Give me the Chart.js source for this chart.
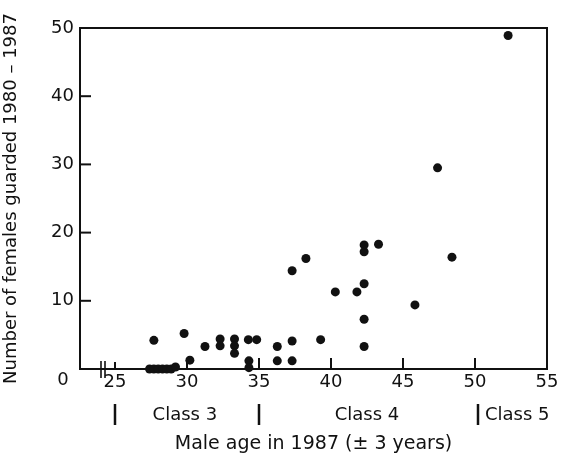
<!DOCTYPE html>
<html>
<head>
<meta charset="utf-8">
<script src="https://cdn.jsdelivr.net/npm/chart.js@4/dist/chart.umd.min.js"></script>
<style>
  html, body { margin: 0; padding: 0; background: #fff; }
  #wrap { width: 562px; height: 455px; }
</style>
</head>
<body>
<div id="wrap"><canvas id="c" width="562" height="455"></canvas></div>
<script>
// ---- data ----
const maleAge = [27.4, 27.7, 28.0, 28.3, 28.6, 28.9, 29.2,
  27.7, 29.8, 30.2, 31.25, 32.3, 32.3, 33.3, 33.3, 33.3, 34.26, 34.84, 34.3, 34.3,
  36.27, 36.27, 37.3, 37.3, 37.3, 38.26, 39.28, 40.3, 41.8, 42.3, 42.3, 42.3, 42.3, 42.3,
  43.3, 45.83, 47.4, 48.4, 52.3];
const femalesGuarded = [0, 0, 0, 0, 0, 0, 0.3,
  4.2, 5.2, 1.3, 3.3, 4.4, 3.4, 4.4, 3.4, 2.3, 4.3, 4.3, 1.2, 0.2,
  3.3, 1.2, 4.1, 1.2, 14.4, 16.2, 4.3, 11.3, 11.3, 12.5, 7.3, 3.3, 18.2, 17.2,
  18.3, 9.4, 29.5, 16.4, 48.9];
const xTickValues = [25, 30, 35, 40, 45, 50, 55];
const yTickValues = [0, 10, 20, 30, 40, 50];
const classBounds = [25, 35, 50];
const classLabels = ['Class 3', 'Class 4', 'Class 5'];
const classLabelCentres = [29.85, 42.5];
const xAxisTitle = 'Male age in 1987 (\u00B1 3 years)';
const yAxisTitle = 'Number of females guarded 1980 \u2013 1987';

const FONT = '"DejaVu Sans", sans-serif';
const INK = '#111';

const points = maleAge.map((x, i) => ({ x: x, y: femalesGuarded[i] }));

const framePlugin = {
  id: 'frame',
  beforeDatasetsDraw(chart) {
    const { ctx, chartArea: a, scales } = chart;
    const xs = scales.x, ys = scales.y;
    ctx.save();
    ctx.strokeStyle = INK;
    ctx.lineWidth = 2;
    ctx.strokeRect(a.left, a.top, a.right - a.left, a.bottom - a.top);
    // inward ticks
    xTickValues.forEach(v => {
      if (v >= 55) return;
      const px = xs.getPixelForValue(v);
      const len = v === 25 ? 7 : 11;
      ctx.beginPath(); ctx.moveTo(px, a.bottom); ctx.lineTo(px, a.bottom - len); ctx.stroke();
    });
    yTickValues.forEach(v => {
      if (v === 0 || v === 50) return;
      const py = ys.getPixelForValue(v);
      ctx.beginPath(); ctx.moveTo(a.left, py); ctx.lineTo(a.left + 11, py); ctx.stroke();
    });
    // axis break marks
    ctx.lineWidth = 1.6;
    [101, 105].forEach(px => {
      ctx.beginPath(); ctx.moveTo(px, a.bottom - 8); ctx.lineTo(px, a.bottom + 9); ctx.stroke();
    });
    ctx.restore();
  },
  afterDraw(chart) {
    const { ctx, chartArea: a, scales } = chart;
    const xs = scales.x;
    ctx.save();
    ctx.fillStyle = INK;
    ctx.strokeStyle = INK;
    ctx.font = '18px ' + FONT;
    ctx.textAlign = 'center';
    ctx.textBaseline = 'middle';
    // origin label
    ctx.fillText('0', 63, a.bottom + 11);
    // class boundaries and labels
    const rowY = 415;
    ctx.lineWidth = 2.5;
    classBounds.forEach((v, i) => {
      const px = xs.getPixelForValue(v) + (i === 2 ? 3 : 0);
      ctx.beginPath(); ctx.moveTo(px, rowY - 11); ctx.lineTo(px, rowY + 10); ctx.stroke();
    });
    ctx.textAlign = 'center';
    ctx.fillText(classLabels[0], xs.getPixelForValue(classLabelCentres[0]), rowY);
    ctx.fillText(classLabels[1], xs.getPixelForValue(classLabelCentres[1]), rowY);
    ctx.textAlign = 'left';
    ctx.fillText(classLabels[2], xs.getPixelForValue(classBounds[2]) + 10, rowY);
    ctx.restore();
  }
};

new Chart(document.getElementById('c'), {
  type: 'scatter',
  data: {
    datasets: [{
      data: points,
      backgroundColor: INK,
      borderColor: INK,
      pointRadius: 4.5,
      pointHoverRadius: 4.5,
      borderWidth: 0,
      clip: false
    }]
  },
  options: {
    responsive: false,
    animation: false,
    events: [],
    layout: { padding: { left: 0, right: 15, top: 28, bottom: 0 } },
    plugins: { legend: { display: false }, tooltip: { enabled: false }, title: { display: false } },
    scales: {
      x: {
        type: 'linear',
        position: 'bottom',
        min: 22.57,
        max: 55,
        afterBuildTicks: s => { s.ticks = xTickValues.map(v => ({ value: v })); },
        afterFit: s => { s.height = 86; },
        grid: { display: false, drawTicks: false },
        border: { display: false },
        ticks: {
          autoSkip: false,
          maxRotation: 0,
          padding: 3,
          color: INK,
          font: { family: FONT, size: 18 },
          callback: v => String(v)
        },
        title: {
          display: true,
          text: xAxisTitle,
          color: INK,
          font: { family: FONT, size: 19 },
          padding: { top: 0, bottom: 0 }
        }
      },
      y: {
        type: 'linear',
        min: 0,
        max: 50,
        afterBuildTicks: s => { s.ticks = yTickValues.map(v => ({ value: v })); },
        afterFit: s => { s.width = 80; },
        grid: { display: false, drawTicks: false },
        border: { display: false },
        ticks: {
          padding: 6,
          color: INK,
          font: { family: FONT, size: 18 },
          callback: v => (v === 0 ? '' : String(v))
        },
        title: {
          display: true,
          text: yAxisTitle,
          color: INK,
          font: { family: FONT, size: 18 },
          padding: { top: 1, bottom: 0 }
        }
      }
    }
  },
  plugins: [framePlugin]
});
</script>
</body>
</html>
